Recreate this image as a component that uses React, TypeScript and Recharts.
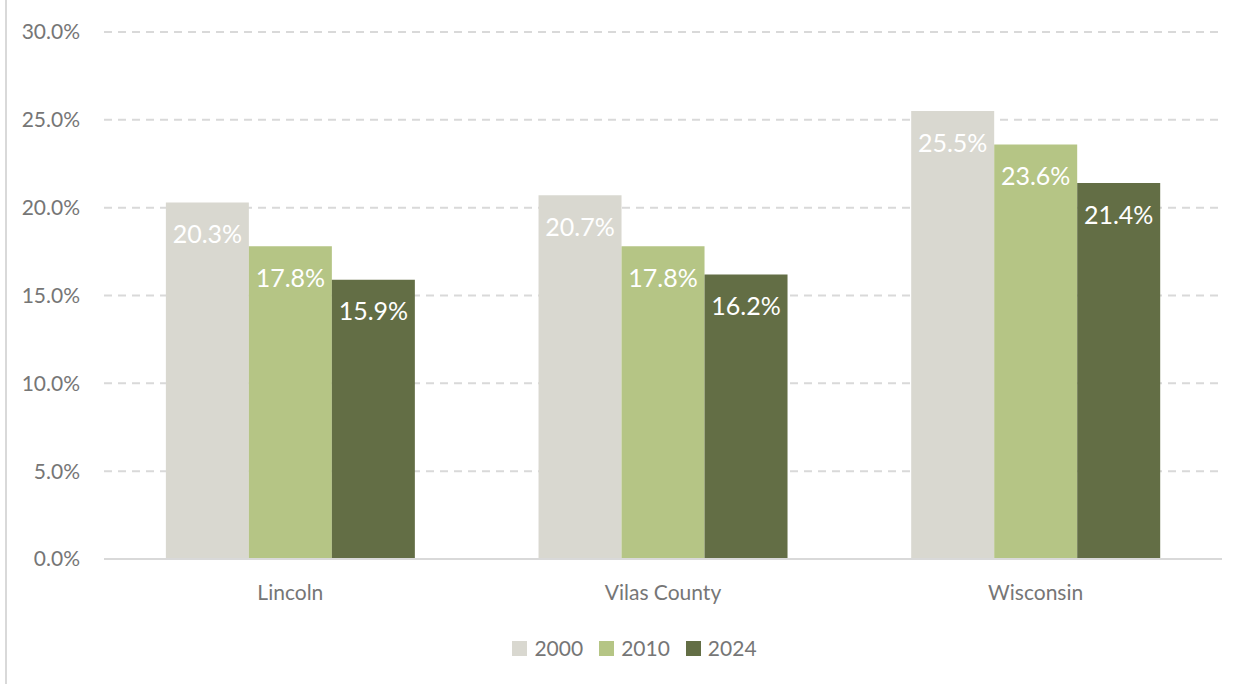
import { Bar, BarChart, CartesianGrid, LabelList, XAxis, YAxis } from "recharts";

const categories = ["Lincoln", "Vilas County", "Wisconsin"];
const years = ["2000", "2010", "2024"];
const values2000 = [20.3, 20.7, 25.5];
const values2010 = [17.8, 17.8, 23.6];
const values2024 = [15.9, 16.2, 21.4];
const yTicks = [0, 5, 10, 15, 20, 25, 30];

const seriesColors = ["#d9d8d0", "#b5c585", "#636e45"];

const data = categories.map((name, i) => ({
  name,
  y2000: values2000[i],
  y2010: values2010[i],
  y2024: values2024[i],
}));

const font = "Lato, 'Open Sans', sans-serif";
const textGray = "#767676";

const pct = (v: number) => `${v.toFixed(1)}%`;

export default function App() {
  return (
    <div
      style={{
        position: "absolute",
        left: 0,
        top: 0,
        width: 1251,
        height: 684,
        background: "#fff",
        fontFamily: font,
      }}
    >
      <div style={{ position: "absolute", left: 5, top: 0, width: 2, height: 684, background: "#d9d9d9" }} />
      <BarChart
        width={1251}
        height={684}
        data={data}
        margin={{ top: 32, right: 29, left: 0, bottom: 75 }}
        barCategoryGap="16.6%"
        barGap={0}
      >
        <CartesianGrid
          vertical={false}
          stroke="#d9d9d9"
          strokeWidth={2}
          strokeDasharray="8 6"
        />
        <XAxis
          dataKey="name"
          height={50}
          tickLine={false}
          tickSize={0}
          tickMargin={26}
          axisLine={{ stroke: "#d9d9d9", strokeWidth: 2 }}
          tick={{ fontSize: 21, fill: textGray, fontFamily: font }}
        />
        <YAxis
          width={104}
          domain={[0, 30]}
          ticks={yTicks}
          tickFormatter={pct}
          axisLine={false}
          tickLine={false}
          tickSize={0}
          tickMargin={24}
          tick={{ fontSize: 21, fill: textGray, fontFamily: font }}
        />
        {years.map((y, i) => (
          <Bar key={y} dataKey={`y${y}`} fill={seriesColors[i]} isAnimationActive={false}>
            <LabelList
              dataKey={`y${y}`}
              position="insideTop"
              offset={23}
              formatter={(v: any) => pct(Number(v))}
              style={{ fontSize: 25, fill: "#ffffff", fontFamily: font }}
            />
          </Bar>
        ))}
      </BarChart>
      <div
        style={{
          position: "absolute",
          top: 636,
          left: 9,
          width: 1251,
          display: "flex",
          justifyContent: "center",
          gap: 16,
          fontSize: 21,
          color: textGray,
          lineHeight: "24px",
        }}
      >
        {years.map((y, i) => (
          <div key={y} style={{ display: "flex", alignItems: "center", gap: 7 }}>
            <span style={{ display: "inline-block", width: 15, height: 15, background: seriesColors[i] }} />
            <span>{y}</span>
          </div>
        ))}
      </div>
    </div>
  );
}
